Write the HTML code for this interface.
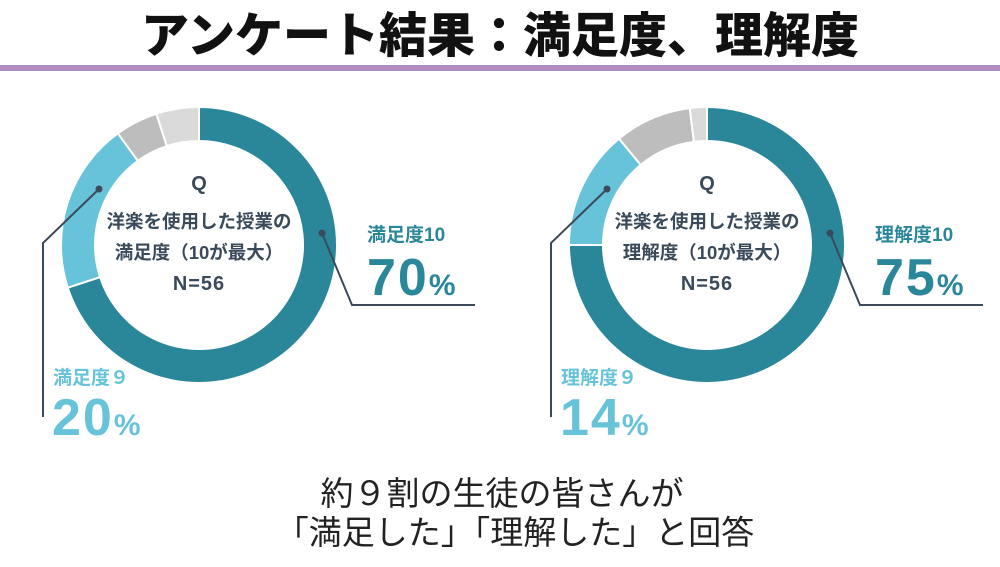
<!DOCTYPE html>
<html><head><meta charset="utf-8">
<style>
html,body{margin:0;padding:0;background:#fff;}
body{width:1000px;height:562px;overflow:hidden;position:relative;font-family:"Liberation Sans","Noto Sans CJK JP",sans-serif;}
svg text{font-family:"Liberation Sans","Noto Sans CJK JP",sans-serif;}
</style></head>
<body>
<svg width="1000" height="562" viewBox="0 0 1000 562">
<text x="500" y="52" text-anchor="middle" font-size="48" font-weight="900" fill="#111">アンケート結果：満足度、理解度</text>
<rect x="0" y="65" width="1000" height="6" fill="#ae8cbd"/>
<g id="donuts"></g>
<text x="502" y="505" text-anchor="middle" font-size="33" fill="#222">約９割の生徒の皆さんが</text>
<text x="515" y="544" text-anchor="middle" font-size="33" fill="#222">「満足した」「理解した」と回答</text>
</svg>
<script>
const satisfactionValues = [70, 20, 5, 5];
const understandingValues = [75, 14, 9, 2];
const topLabels = ["満足度10", "理解度10"];
const sideLabels = ["満足度９", "理解度９"];
const questionLines2 = ["満足度（10が最大）", "理解度（10が最大）"];
const sliceColors = ["#2a879a", "#67c3d9", "#bdbdbd", "#dadada"];
const NS = "http://www.w3.org/2000/svg";
const g = document.getElementById("donuts");
function mk(tag, attrs, parent) {
  const e = document.createElementNS(NS, tag);
  for (const k in attrs) e.setAttribute(k, attrs[k]);
  (parent || g).appendChild(e);
  return e;
}
function pt(cx, cy, r, frac) {
  const a = frac * 2 * Math.PI - Math.PI / 2;
  return [cx + r * Math.cos(a), cy + r * Math.sin(a)];
}
function arcPath(cx, cy, R, r, f0, f1) {
  const large = (f1 - f0) > 0.5 ? 1 : 0;
  const [x0, y0] = pt(cx, cy, R, f0), [x1, y1] = pt(cx, cy, R, f1);
  const [x2, y2] = pt(cx, cy, r, f1), [x3, y3] = pt(cx, cy, r, f0);
  return `M${x0},${y0} A${R},${R} 0 ${large} 1 ${x1},${y1} L${x2},${y2} A${r},${r} 0 ${large} 0 ${x3},${y3} Z`;
}
function drawDonut(values, idx, cx, cy) {
  const total = values.reduce((a, b) => a + b, 0);
  let acc = 0;
  values.forEach((v, i) => {
    const f0 = acc / total, f1 = (acc + v) / total;
    acc += v;
    const p = mk("path", {d: arcPath(cx, cy, 138, 104, f0, f1), fill: sliceColors[i], stroke: "#fff", "stroke-width": 2});
    
    
  });
  const tc = "#3b4a5a";
  const q = mk("text", {x: cx, y: cy - 55, "text-anchor": "middle", "font-size": 20, "font-weight": "bold", fill: tc});
  q.textContent = "Q";
  
  
  const l1 = mk("text", {x: cx, y: cy - 17, "text-anchor": "middle", "font-size": 18.5, "font-weight": "bold", fill: tc});
  l1.textContent = "洋楽を使用した授業の";
  
  
  const l2 = mk("text", {x: cx, y: cy + 14, "text-anchor": "middle", "font-size": 18.5, "font-weight": "bold", fill: tc});
  l2.textContent = questionLines2[idx];
  
  
  const l3 = mk("text", {x: cx, y: cy + 45, "text-anchor": "middle", "font-size": 20, "font-weight": "bold", fill: tc, "letter-spacing": 1});
  l3.textContent = "N=56";
  
  
  const [dx1, dy1] = [cx + 123, cy - 12];
  const d1 = mk("circle", {cx: dx1, cy: dy1, r: 3.5, fill: tc});
  
  
  const p1 = mk("polyline", {points: `${dx1},${dy1} ${cx + 153},${cy + 60} ${cx + 276},${cy + 60}`, fill: "none", stroke: tc, "stroke-width": 2});
  
  
  const [dx2, dy2] = [cx - 100, cy - 56];
  const d2 = mk("circle", {cx: dx2, cy: dy2, r: 3.5, fill: tc});
  
  
  const p2 = mk("polyline", {points: `${dx2},${dy2} ${cx - 156},${cy - 2} ${cx - 156},${cy + 172}`, fill: "none", stroke: tc, "stroke-width": 2});
  
  
  const t1 = mk("text", {x: cx + 168, y: cy - 4, "font-size": 19, "font-weight": "bold", fill: sliceColors[0]});
  t1.textContent = topLabels[idx];
  
  
  const v1 = mk("text", {x: cx + 168, y: cy + 50, "font-size": 52, "font-weight": "bold", fill: sliceColors[0], "letter-spacing": 2});
  v1.textContent = values[0];
  const s1 = mk("tspan", {"font-size": 30}, v1); s1.textContent = "%";
  
  
  const t2 = mk("text", {x: cx - 146, y: cy + 139, "font-size": 19, "font-weight": "bold", fill: sliceColors[1]});
  t2.textContent = sideLabels[idx];
  
  
  const v2 = mk("text", {x: cx - 147, y: cy + 190, "font-size": 52, "font-weight": "bold", fill: sliceColors[1], "letter-spacing": 2});
  v2.textContent = values[1];
  const s2 = mk("tspan", {"font-size": 30}, v2); s2.textContent = "%";
  
  
}
drawDonut(satisfactionValues, 0, 199, 245);
drawDonut(understandingValues, 1, 707, 245);
</script>
</body></html>
